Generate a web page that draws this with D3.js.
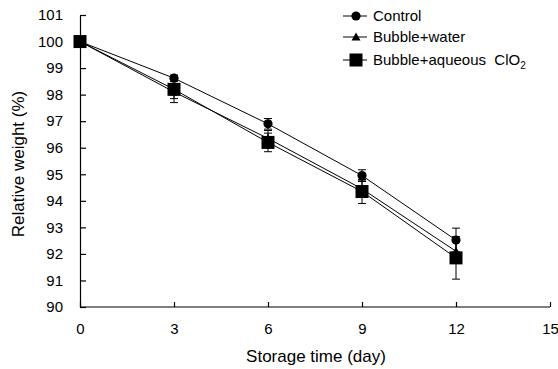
<!DOCTYPE html>
<html>
<head>
<meta charset="utf-8">
<script src="https://cdn.jsdelivr.net/npm/d3@7"></script>
<style>
  body { margin: 0; background: #fff; }
  svg { font-family: "Liberation Sans", Arial, sans-serif; }
</style>
</head>
<body>
<div id="chart"></div>
<script>
const days = [0, 3, 6, 9, 12];
const control = [100, 98.62, 96.9, 94.95, 92.52];
const controlErr = [0, 0.12, 0.2, 0.22, 0.45];
const water = [100, 98.1, 96.35, 94.45, 92.1];
const waterErr = [0, 0.25, 0.3, 0.3, 0.35];
const clo2 = [100, 98.2, 96.2, 94.35, 91.85];
const clo2Err = [0, 0.5, 0.35, 0.45, 0.8];
const xTicks = [0, 3, 6, 9, 12, 15];
const yTicks = [90, 91, 92, 93, 94, 95, 96, 97, 98, 99, 100, 101];

const series = [
  { name: "Control", values: control, err: controlErr, shape: "circle" },
  { name: "Bubble+water", values: water, err: waterErr, shape: "triangle" },
  { name: "Bubble+aqueous ClO2", values: clo2, err: clo2Err, shape: "square" }
];

const margin = { top: 15, right: 8, bottom: 62, left: 80 };
const width = 558 - margin.left - margin.right;
const height = 369 - margin.top - margin.bottom;

const svg = d3.select("#chart").append("svg")
    .attr("width", 558)
    .attr("height", 369)
  .append("g")
    .attr("transform", `translate(${margin.left},${margin.top})`);

const x = d3.scaleLinear().domain([0, 15]).range([0, 470]);
const y = d3.scaleLinear().domain([90, 101]).range([height, 0]);

// axes with inward ticks
const xAxis = svg.append("g")
    .attr("transform", `translate(0,${height})`)
    .call(d3.axisBottom(x).tickValues(xTicks).tickSizeInner(-5).tickSizeOuter(0).tickPadding(16));
xAxis.select(".domain").attr("d", `M0,0H${x(15)}`);
xAxis.selectAll("text").style("font-size", "15px").attr("fill", "#000");

const yAxis = svg.append("g")
    .call(d3.axisLeft(y).tickValues(yTicks).tickSizeInner(-6).tickSizeOuter(0).tickPadding(17));
yAxis.selectAll("text").style("font-size", "15px").attr("fill", "#000");
svg.selectAll(".domain").attr("stroke", "#000").attr("stroke-width", 1.2);
svg.selectAll(".tick line").attr("stroke", "#000").attr("stroke-width", 1.2);

svg.append("text")
    .attr("transform", "rotate(-90)")
    .attr("x", -(164 - margin.top))
    .attr("y", -56)
    .attr("text-anchor", "middle")
    .style("font-size", "17px")
    .text("Relative weight (%)");

svg.append("text")
    .attr("x", 316 - margin.left)
    .attr("y", height + 55)
    .attr("text-anchor", "middle")
    .style("font-size", "17px")
    .text("Storage time (day)");

const line = d3.line()
    .x((d, i) => x(days[i]))
    .y(d => y(d));

const drawMarker = (g, shape) => {
  if (shape === "circle") {
    g.append("circle").attr("r", 4.6).attr("fill", "#000");
  } else if (shape === "triangle") {
    g.append("path").attr("d", "M0,-4.5L4.5,3.5L-4.5,3.5Z").attr("fill", "#000");
  } else {
    g.append("rect").attr("x", -6.5).attr("y", -6.5).attr("width", 13).attr("height", 13).attr("fill", "#000");
  }
};

series.forEach(s => {
  svg.append("path")
      .datum(s.values)
      .attr("d", line)
      .attr("fill", "none")
      .attr("stroke", "#000")
      .attr("stroke-width", 1);

  s.values.forEach((v, i) => {
    if (s.err[i] > 0) {
      const cx = x(days[i]);
      const g = svg.append("g").attr("stroke", "#000").attr("stroke-width", 1);
      g.append("line").attr("x1", cx).attr("x2", cx).attr("y1", y(v - s.err[i])).attr("y2", y(v + s.err[i]));
      g.append("line").attr("x1", cx - 4).attr("x2", cx + 4).attr("y1", y(v - s.err[i])).attr("y2", y(v - s.err[i]));
      g.append("line").attr("x1", cx - 4).attr("x2", cx + 4).attr("y1", y(v + s.err[i])).attr("y2", y(v + s.err[i]));
    }
  });
});

series.forEach(s => {
  s.values.forEach((v, i) => {
    const g = svg.append("g").attr("transform", `translate(${x(days[i])},${y(v)})`);
    drawMarker(g, s.shape);
  });
});

// legend
const legendRows = [16, 37, 60];
const legend = svg.append("g").attr("transform", `translate(${343 - margin.left}, ${-margin.top})`);
series.forEach((s, i) => {
  const row = legend.append("g").attr("transform", `translate(0, ${legendRows[i]})`);
  row.append("line").attr("x1", 0).attr("x2", 24).attr("y1", 0).attr("y2", 0)
      .attr("stroke", "#000").attr("stroke-width", 1);
  const m = row.append("g").attr("transform", "translate(13,0)");
  drawMarker(m, s.shape);
  const t = row.append("text").attr("x", 30).attr("y", 5).style("font-size", "15px");
  if (s.shape === "square") {
    t.append("tspan").text("Bubble+aqueous\u00a0 ClO");
    t.append("tspan").attr("dy", 4).style("font-size", "10px").text("2");
  } else {
    t.text(s.name);
  }
});
</script>
</body>
</html>
